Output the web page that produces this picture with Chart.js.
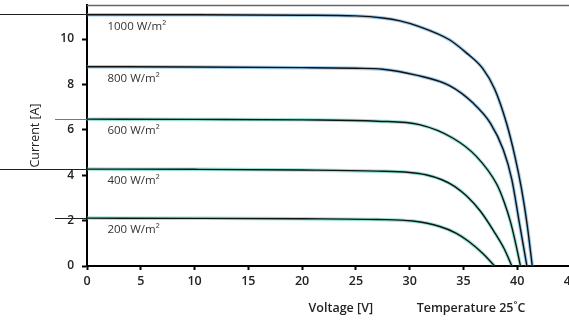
<!DOCTYPE html>
<html>
<head>
<meta charset="utf-8">
<script src="https://cdn.jsdelivr.net/npm/chart.js@4"></script>
<style>
  html, body { margin: 0; padding: 0; background: #fff; overflow: hidden; }
  #wrap { width: 580px; height: 321px; }
</style>
</head>
<body>
<div id="wrap"><canvas id="ivChart"></canvas></div>
<script>
// curve labels (irradiance)
const irradiance = ['1000 W/m²', '800 W/m²', '600 W/m²', '400 W/m²', '200 W/m²'];

// voltage [V] / current [A]
const volt1000 = [0, 10, 20, 25, 27.5, 29.1, 30.9, 33.7, 35.3, 36.8, 37.9, 39, 39.8, 40.4, 40.9, 41.4];
const amp1000  = [11.07, 11.07, 11.05, 11.02, 10.93, 10.8, 10.55, 9.97, 9.38, 8.7, 7.8, 6.3, 4.8, 3.4, 1.9, 0];
const volt800  = [0, 10, 20, 25, 27.5, 30.6, 33.7, 35.9, 37.5, 38.7, 39.5, 40.2, 40.9];
const amp800   = [8.78, 8.77, 8.74, 8.71, 8.67, 8.41, 7.95, 7.18, 6.3, 5.13, 3.81, 1.9, 0];
const volt600  = [0, 10, 20, 27, 30.9, 34, 36.2, 38.1, 38.8, 39.4, 39.9, 40.3];
const amp600   = [6.47, 6.46, 6.44, 6.38, 6.23, 5.64, 4.83, 3.6, 2.8, 1.9, 0.9, 0];
const volt400  = [0, 10, 20, 27, 30, 31.5, 33, 34.2, 35.3, 36.6, 37.8, 38.8, 39.5];
const amp400   = [4.27, 4.26, 4.23, 4.18, 4.12, 4.02, 3.8, 3.5, 3.08, 2.4, 1.55, 0.75, 0];
const volt200  = [0, 10, 20, 27, 30.3, 32.8, 34.3, 35.5, 36.8, 37.9];
const amp200   = [2.11, 2.1, 2.08, 2.05, 1.98, 1.74, 1.45, 1.08, 0.55, 0];

const xTicks = [0, 5, 10, 15, 20, 25, 30, 35, 40, 45];
const yTicks = [0, 2, 4, 6, 8, 10];

const curves = [
  { v: volt1000, a: amp1000, glow: 'rgba(80,160,215,0.55)' },
  { v: volt800,  a: amp800,  glow: 'rgba(80,160,215,0.55)' },
  { v: volt600,  a: amp600,  glow: 'rgba(70,200,180,0.55)' },
  { v: volt400,  a: amp400,  glow: 'rgba(70,200,180,0.55)' },
  { v: volt200,  a: amp200,  glow: 'rgba(70,200,180,0.55)' }
];

const toPoints = (v, a) => v.map((x, i) => ({ x: x, y: a[i] }));

const datasets = [];
curves.forEach((c, k) => {
  // light halo under each curve
  datasets.push({ label: irradiance[k] + ' halo', data: toPoints(c.v, c.a), borderColor: c.glow,
    borderWidth: 3.5, pointRadius: 0, cubicInterpolationMode: 'monotone', order: 2 });
  datasets.push({ label: irradiance[k], data: toPoints(c.v, c.a), borderColor: '#111',
    borderWidth: 1.4, pointRadius: 0, cubicInterpolationMode: 'monotone', order: 1 });
});

// texts and odd strokes that Chart.js has no option for
const extras = {
  id: 'extras',
  afterDraw(chart) {
    const ctx = chart.ctx, area = chart.chartArea;
    const xs = chart.scales.x, ys = chart.scales.y;
    ctx.save();
    // top frame line
    ctx.strokeStyle = '#666';
    ctx.lineWidth = 1.5;
    ctx.beginPath();
    ctx.moveTo(area.left, area.top + 0.5);
    ctx.lineTo(chart.width, area.top + 0.5);
    ctx.stroke();
    // stray lines left of the plot at the short-circuit currents
    const stray = [0, null, area.left - 32, 0, area.left - 32];
    curves.forEach((c, k) => {
      if (stray[k] === null) return;
      const y = Math.round(ys.getPixelForValue(c.a[0])) + 0.5 - (k === 0 ? 1 : 0);
      ctx.strokeStyle = k === 2 ? '#777' : '#222';
      ctx.lineWidth = 1;
      ctx.beginPath();
      ctx.moveTo(stray[k], y);
      ctx.lineTo(area.left, y);
      ctx.stroke();
    });
    // irradiance labels
    ctx.fillStyle = '#333';
    ctx.font = '11.5px "Open Sans"';
    ctx.textBaseline = 'middle';
    ctx.textAlign = 'left';
    curves.forEach((c, k) => {
      ctx.fillText(irradiance[k], xs.getPixelForValue(1.9), ys.getPixelForValue(c.a[0]) + 12);
    });
    // bottom captions
    ctx.fillStyle = '#222';
    ctx.font = '600 12.5px "Open Sans"';
    ctx.textAlign = 'center';
    ctx.fillText('Voltage [V]', xs.getPixelForValue(23.6), 308);
    ctx.fillText('Temperature 25˚C', xs.getPixelForValue(35.7), 308);
    ctx.restore();
  }
};

new Chart(document.getElementById('ivChart'), {
  type: 'line',
  data: { datasets: datasets },
  options: {
    responsive: true,
    maintainAspectRatio: false,
    animation: false,
    layout: { padding: { top: 5, right: 9, left: 0, bottom: 0 } },
    plugins: { legend: { display: false }, tooltip: { enabled: false } },
    scales: {
      x: {
        type: 'linear', min: 0, max: 45,
        afterFit: s => { s.height = 55; s.paddingLeft = 0; s.paddingRight = 0; },
        afterBuildTicks: s => { s.ticks = xTicks.map(v => ({ value: v })); },
        border: { color: '#000', width: 2 },
        grid: { drawOnChartArea: false, tickLength: 4, tickColor: '#000', tickWidth: 2 },
        ticks: { color: '#222', padding: 4, font: { family: 'Open Sans', size: 12.5, weight: '600' } }
      },
      y: {
        type: 'linear', min: 0, max: 11.5,
        afterFit: s => { s.width = 87; s.paddingTop = 0; s.paddingBottom = 0; },
        afterBuildTicks: s => { s.ticks = yTicks.map(v => ({ value: v })); },
        border: { color: '#000', width: 2 },
        grid: { drawOnChartArea: false, tickLength: 5, tickColor: '#000', tickWidth: 2 },
        ticks: { color: '#222', padding: 8, font: { family: 'Open Sans', size: 12, weight: '600' } },
        title: { display: true, text: 'Current [A]', color: '#222', padding: { top: 28, bottom: 0 },
          font: { family: 'Open Sans', size: 12.5 } }
      }
    }
  },
  plugins: [extras]
});
</script>
</body>
</html>
